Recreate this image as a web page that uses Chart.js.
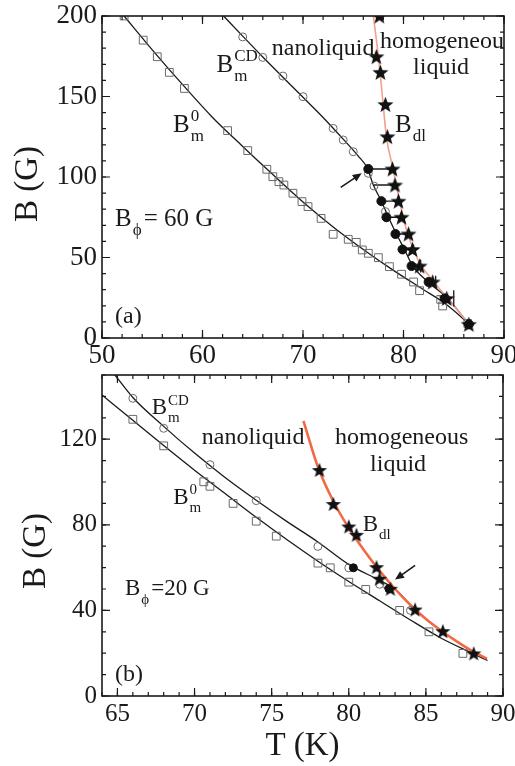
<!DOCTYPE html>
<html>
<head>
<meta charset="utf-8">
<script src="https://cdn.jsdelivr.net/npm/chart.js@4.4.1/dist/chart.umd.min.js"></script>
<style>
  html, body { margin: 0; padding: 0; background: #fff; }
  #wrap { position: relative; width: 515px; height: 766px; overflow: hidden; }
  canvas { position: absolute; left: 0; }
  #chartA { top: 0; }
  #chartB { top: 366px; }
</style>
</head>
<body>
<div id="wrap">
  <canvas id="chartA" width="515" height="382"></canvas>
  <canvas id="chartB" width="515" height="400"></canvas>
</div>
<script>
// ---------- panel (a): B_phi = 60 G ----------
var xTicksA = [50, 60, 70, 80, 90];
var yTicksA = [0, 50, 100, 150, 200];

// open squares, B_m^0
var sqA_T = [52.2, 54.1, 55.5, 56.7, 58.2, 62.5, 64.5, 66.4, 67.0, 67.6, 68.1, 69.0, 69.9, 70.5, 71.8, 73.0, 74.5, 75.3, 75.9, 76.5, 77.5, 78.6, 79.8, 81.0, 81.6, 83.7, 83.9, 86.4];
var sqA_B = [200, 185, 174.7, 165, 155, 128.8, 116.4, 104.8, 100.2, 97.1, 95, 89.9, 84.7, 81.6, 74.3, 64.4, 61.3, 59.4, 54.7, 52.6, 49.9, 44.3, 39.6, 34.8, 29.4, 24, 19.9, 9];
// open circles, B_m^CD
var circA_T = [64.0, 66.0, 68.0, 70.0, 73.0, 74.0, 75.0, 76.5, 77.06, 78.2];
var circA_B = [187, 174.3, 162.7, 149.9, 130.2, 123, 115.7, 102.3, 94.4, 78.5];
// filled circles
var dotA_T = [76.5, 77.8, 78.3, 79.2, 79.9, 80.8, 82.5, 84.1, 86.5];
var dotA_B = [105, 85, 75, 64.6, 55, 44.7, 34.8, 24.6, 8.5];
// stars, B_dl
var starA_T = [77.6, 77.3, 77.7, 78.2, 78.4, 78.9, 79.15, 79.5, 79.8, 80.5, 80.9, 81.6, 82.9, 84.3, 86.5];
var starA_B = [200, 174.7, 165, 145, 125, 105, 95, 85, 75, 64.6, 55, 44.7, 34.8, 24.6, 8.5];
// horizontal links circle -> star
var linkA_B = [105, 95, 85, 75, 64.6, 55, 44.7];
var linkA_from = [76.5, 77.06, 77.8, 78.3, 79.2, 79.9, 80.8];
var linkA_to = [78.9, 79.15, 79.5, 79.8, 80.5, 80.9, 81.6];
// error bars
var errA_T = [80.5, 81.0, 81.7, 83.2, 85.0];
var errA_B = [64.6, 55, 44.7, 34.8, 24.6];
var errA_D = [2.5, 3, 4, 3.8, 5];
// fit lines
var fitA0_T = [52.2, 55, 58, 61, 64, 67, 70, 73, 76, 79, 82, 84, 86.6];
var fitA0_B = [200, 179, 157.5, 137, 119, 101.5, 84.5, 69, 55, 42, 30, 22, 8.5];
var fitACD_T = [62.1, 64, 66, 68, 70, 72, 74, 75.5, 76.4, 77.0, 77.8, 78.5, 79.3, 80.1, 80.9, 82.5, 84.4, 86.5];
var fitACD_B = [200, 187.5, 174.5, 162, 149.5, 137, 123.5, 113, 105.5, 95, 85, 75, 64.6, 55, 45, 34.5, 24.6, 8.5];
var redA_T = [77.0, 77.5, 77.9, 78.3, 79.0, 79.65, 80.3, 81.0, 81.6, 82.6, 84.0, 86.6];
var redA_B = [200, 175, 150, 125, 104, 84, 67, 55, 46.5, 38, 27.5, 8];

// ---------- panel (b): B_phi = 20 G ----------
var xTicksB = [65, 70, 75, 80, 85, 90];
var yTicksB = [0, 40, 80, 120];

var sqB_T = [66, 68, 70.6, 71, 72.5, 74, 75.3, 78, 78.8, 80, 81.1, 83.3, 85.2, 87.4];
var sqB_B = [129.3, 116.9, 100.1, 98, 90, 81.7, 74.7, 62.1, 59.9, 53.2, 49.8, 40, 30, 19.9];
var circB_T = [66, 68, 71, 74, 78, 80, 82, 84];
var circB_B = [139.1, 125.1, 108.1, 91.3, 69.9, 59.9, 52.2, 40];
var dotB_T = [80.3, 82.6];
var dotB_B = [59.9, 50.1];
var starB_T = [78.1, 79, 80, 80.5, 81.8, 82, 82.7, 84.3, 86.1, 88.1];
var starB_B = [105.6, 89.7, 79.2, 75.3, 60.2, 54.8, 50.1, 40.4, 30.3, 19.9];
var fitB0_T = [64, 66, 68, 70, 72, 74, 76, 78, 80, 82, 84, 86, 88, 89];
var fitB0_B = [140.7, 128.8, 117, 105.5, 94.5, 83.5, 73, 63, 53.5, 44.5, 35.5, 27, 20, 16.6];
var fitBCD_T = [64.84, 66, 68, 70, 72, 74, 76, 78, 80, 82, 83, 84, 85, 86, 87, 88, 88.95];
var fitBCD_B = [150, 139.5, 126, 113.5, 102, 91.5, 81.5, 72, 61.5, 54, 50, 42.5, 36, 30.5, 25.5, 21, 17.5];
var redB_T = [77.06, 78, 79, 80, 81, 82, 83, 84, 85, 86, 87, 88, 88.95];
var redB_B = [128.6, 107, 91, 78.5, 68, 58.5, 50, 42.5, 36, 30.5, 25.5, 21, 17.5];

var SERIF = 'Liberation Serif';
var INK = '#1a1a1a';
var GRAY = '#6b6b6b';

function pts(xs, ys) {
  return xs.map(function (x, i) { return { x: x, y: ys[i] }; });
}

function links(bs, from, to) {
  var out = [];
  for (var i = 0; i < bs.length; i++) {
    out.push({ x: from[i], y: bs[i] }, { x: to[i], y: bs[i] }, { x: null, y: null });
  }
  return out;
}

// filled five-point star used as point style
function makeStar(r) {
  var c = document.createElement('canvas');
  var s = Math.ceil(r * 2 + 2);
  c.width = s; c.height = s;
  var g = c.getContext('2d');
  g.translate(s / 2, s / 2 + r * 0.08);
  g.beginPath();
  for (var i = 0; i < 10; i++) {
    var rad = i % 2 === 0 ? r : r * 0.42;
    var a = -Math.PI / 2 + i * Math.PI / 5;
    g.lineTo(rad * Math.cos(a), rad * Math.sin(a));
  }
  g.closePath();
  g.fillStyle = '#111';
  g.fill();
  return c;
}

function markers(data, style, radius, filled) {
  return {
    data: data, showLine: false, pointStyle: style, pointRadius: radius,
    borderColor: filled ? '#111' : GRAY, backgroundColor: filled ? '#111' : 'rgba(0,0,0,0)',
    pointBorderWidth: 1, clip: 0
  };
}

function curve(data, color, width) {
  return {
    data: data, showLine: true, pointRadius: 0, borderColor: color, borderWidth: width,
    cubicInterpolationMode: 'monotone', fill: false
  };
}

// frame, inward ticks, labels, arrows, error bars
function makeDecor(cfg) {
  return {
    id: 'decor',
    afterDatasetsDraw: function (chart) {
      var ctx = chart.ctx, xs = chart.scales.x, ys = chart.scales.y, a = chart.chartArea;
      ctx.save();
      ctx.strokeStyle = INK;
      ctx.fillStyle = INK;

      // error bars
      if (cfg.errT) {
        ctx.lineWidth = 1.3;
        for (var i = 0; i < cfg.errT.length; i++) {
          var ex = xs.getPixelForValue(cfg.errT[i]);
          ctx.beginPath();
          ctx.moveTo(ex, ys.getPixelForValue(cfg.errB[i] - cfg.errD[i]));
          ctx.lineTo(ex, ys.getPixelForValue(cfg.errB[i] + cfg.errD[i]));
          ctx.stroke();
        }
      }

      // arrows
      (cfg.arrows || []).forEach(function (ar) {
        var x1 = xs.getPixelForValue(ar.from[0]), y1 = ys.getPixelForValue(ar.from[1]);
        var x2 = xs.getPixelForValue(ar.to[0]), y2 = ys.getPixelForValue(ar.to[1]);
        var ang = Math.atan2(y2 - y1, x2 - x1);
        ctx.lineWidth = 1.6;
        ctx.beginPath();
        ctx.moveTo(x1, y1);
        ctx.lineTo(x2 - 6 * Math.cos(ang), y2 - 6 * Math.sin(ang));
        ctx.stroke();
        ctx.beginPath();
        ctx.moveTo(x2, y2);
        ctx.lineTo(x2 - 9 * Math.cos(ang) + 4 * Math.sin(ang), y2 - 9 * Math.sin(ang) - 4 * Math.cos(ang));
        ctx.lineTo(x2 - 9 * Math.cos(ang) - 4 * Math.sin(ang), y2 - 9 * Math.sin(ang) + 4 * Math.cos(ang));
        ctx.closePath();
        ctx.fill();
      });

      // text labels placed in data units (left edge, baseline), clipped to the frame
      ctx.save();
      ctx.beginPath();
      ctx.rect(a.left, a.top, a.right - a.left, a.bottom - a.top);
      ctx.clip();
      ctx.textBaseline = 'alphabetic';
      ctx.textAlign = 'left';
      cfg.labels.forEach(function (lb) {
        var x = xs.getPixelForValue(lb.t), y = ys.getPixelForValue(lb.b);
        ctx.font = lb.size + 'px "' + SERIF + '"';
        ctx.fillText(lb.main, x, y);
        var w = ctx.measureText(lb.main).width;
        var small = Math.round(lb.size * 0.66);
        ctx.font = small + 'px "' + SERIF + '"';
        var w2 = 0;
        if (lb.sup) {
          ctx.fillText(lb.sup, x + w + 1, y - lb.size * 0.42);
          w2 = Math.max(w2, ctx.measureText(lb.sup).width);
        }
        if (lb.sub) {
          ctx.fillText(lb.sub, x + w + 1, y + lb.size * 0.36);
          w2 = Math.max(w2, ctx.measureText(lb.sub).width);
        }
        if (lb.tail) {
          ctx.font = lb.size + 'px "' + SERIF + '"';
          ctx.fillText(lb.tail, x + w + w2 + 3, y);
        }
      });
      ctx.restore();

      // frame
      ctx.lineWidth = 1.6;
      ctx.strokeRect(a.left, a.top, a.right - a.left, a.bottom - a.top);

      // ticks pointing inwards, on all four sides
      ctx.lineWidth = 1.2;
      function tickSet(scale, step, len) {
        var n = Math.round((scale.max - scale.min) / step);
        for (var k = 0; k <= n; k++) {
          var v = Math.round((scale.min + k * step) * 1000) / 1000;
          var p = scale.getPixelForValue(v);
          ctx.beginPath();
          if (scale.axis === 'x') {
            ctx.moveTo(p, a.bottom); ctx.lineTo(p, a.bottom - len);
            ctx.moveTo(p, a.top); ctx.lineTo(p, a.top + len);
          } else {
            ctx.moveTo(a.left, p); ctx.lineTo(a.left + len, p);
            ctx.moveTo(a.right, p); ctx.lineTo(a.right - len, p);
          }
          ctx.stroke();
        }
      }
      tickSet(xs, cfg.minorX, 4);
      tickSet(ys, cfg.minorY, 4);
      xs.ticks.forEach(function (t) {
        var p = xs.getPixelForValue(t.value);
        ctx.beginPath();
        ctx.moveTo(p, a.bottom); ctx.lineTo(p, a.bottom - 8);
        ctx.moveTo(p, a.top); ctx.lineTo(p, a.top + 8);
        ctx.stroke();
      });
      ys.ticks.forEach(function (t) {
        var p = ys.getPixelForValue(t.value);
        ctx.beginPath();
        ctx.moveTo(a.left, p); ctx.lineTo(a.left + 8, p);
        ctx.moveTo(a.right, p); ctx.lineTo(a.right - 8, p);
        ctx.stroke();
      });

      // y axis title
      ctx.font = '33px "' + SERIF + '"';
      ctx.textAlign = 'center';
      ctx.textBaseline = 'middle';
      ctx.translate(cfg.yTitle[0], cfg.yTitle[1]);
      ctx.rotate(-Math.PI / 2);
      ctx.fillText('B (G)', 0, 0);
      ctx.restore();
    }
  };
}

function baseOptions(o) {
  return {
    responsive: false,
    animation: false,
    devicePixelRatio: 1,
    layout: { padding: { top: o.top, right: o.right, left: 0, bottom: 0 } },
    plugins: { legend: { display: false }, tooltip: { enabled: false } },
    scales: {
      x: {
        type: 'linear', min: o.xMin, max: o.xMax,
        afterBuildTicks: function (s) { s.ticks = o.xTicks.map(function (v) { return { value: v }; }); },
        afterFit: function (s) { s.height = o.xHeight; s.paddingLeft = 0; s.paddingRight = 0; },
        grid: { display: false, drawTicks: false },
        border: { display: false },
        title: o.xTitle ? {
          display: true, text: o.xTitle, color: INK,
          font: { family: SERIF, size: 33, lineHeight: 1.2 }, padding: 0
        } : { display: false },
        ticks: { padding: o.xPad, color: INK, font: { family: SERIF, size: o.tickSize }, maxRotation: 0, autoSkip: false }
      },
      y: {
        type: 'linear', min: o.yMin, max: o.yMax,
        afterBuildTicks: function (s) { s.ticks = o.yTicks.map(function (v) { return { value: v }; }); },
        afterFit: function (s) { s.width = 102; s.paddingTop = 0; s.paddingBottom = 0; },
        grid: { display: false, drawTicks: false },
        border: { display: false },
        ticks: { padding: 5, color: INK, font: { family: SERIF, size: o.tickSize }, autoSkip: false }
      }
    }
  };
}

var starA = makeStar(8.5);
var starB = makeStar(8);

new Chart(document.getElementById('chartA'), {
  type: 'scatter',
  data: {
    datasets: [
      markers(pts(starA_T, starA_B), starA, 8, true),
      markers(pts(dotA_T, dotA_B), 'circle', 4.5, true),
      markers(pts(circA_T, circA_B), 'circle', 4, false),
      markers(pts(sqA_T, sqA_B), 'rect', 5.5, false),
      Object.assign(curve(links(linkA_B, linkA_from, linkA_to), INK, 1.4), { cubicInterpolationMode: 'default', tension: 0 }),
      curve(pts(redA_T, redA_B), '#f2a08e', 1.6),
      curve(pts(fitACD_T, fitACD_B), INK, 1.3),
      curve(pts(fitA0_T, fitA0_B), INK, 1.3)
    ]
  },
  options: baseOptions({
    top: 16, right: 11, xMin: 50, xMax: 90, yMin: 0, yMax: 200,
    xTicks: xTicksA, yTicks: yTicksA, xHeight: 44, xPad: 2, tickSize: 27
  }),
  plugins: [makeDecor({
    minorX: 2, minorY: 10, yTitle: [28, 184],
    errT: errA_T, errB: errA_B, errD: errA_D,
    arrows: [{ from: [73.75, 93.6], to: [75.84, 102.3] }],
    labels: [
      { t: 61.4, b: 165.4, main: 'B', sup: 'CD', sub: 'm', size: 25 },
      { t: 57.06, b: 128.1, main: 'B', sup: '0', sub: 'm', size: 25 },
      { t: 79.15, b: 128.1, main: 'B', sub: 'dl', size: 25 },
      { t: 66.9, b: 175.8, main: 'nanoliquid', size: 24 },
      { t: 77.66, b: 180, main: 'homogeneous', size: 24 },
      { t: 80.95, b: 164, main: 'liquid', size: 24 },
      { t: 51.3, b: 69.6, main: 'B', sub: '\u03D5', tail: '= 60 G', size: 25 },
      { t: 51.3, b: 9.3, main: '(a)', size: 24 }
    ]
  })]
});

new Chart(document.getElementById('chartB'), {
  type: 'scatter',
  data: {
    datasets: [
      markers(pts(starB_T, starB_B), starB, 8, true),
      markers(pts(dotB_T, dotB_B), 'circle', 4, true),
      markers(pts(circB_T, circB_B), 'circle', 4, false),
      markers(pts(sqB_T, sqB_B), 'rect', 5.5, false),
      curve(pts(redB_T, redB_B), '#f26a45', 2.6),
      curve(pts(fitBCD_T, fitBCD_B), INK, 1.3),
      curve(pts(fitB0_T, fitB0_B), INK, 1.3)
    ]
  },
  options: baseOptions({
    top: 8, right: 12, xMin: 64, xMax: 90, yMin: 0, yMax: 150,
    xTicks: xTicksB, yTicks: yTicksB, xHeight: 70, xPad: 3, tickSize: 25, xTitle: 'T (K)'
  }),
  plugins: [makeDecor({
    minorX: 1, minorY: 10, yTitle: [36, 185],
    arrows: [{ from: [84.3, 61], to: [83.0, 54.4] }],
    labels: [
      { t: 67.22, b: 131.7, main: 'B', sup: 'CD', sub: 'm', size: 23 },
      { t: 68.62, b: 89.8, main: 'B', sup: '0', sub: 'm', size: 23 },
      { t: 80.9, b: 77.3, main: 'B', sub: 'dl', size: 23 },
      { t: 70.47, b: 117.7, main: 'nanoliquid', size: 24 },
      { t: 79.11, b: 117.7, main: 'homogeneous', size: 24 },
      { t: 81.38, b: 105.3, main: 'liquid', size: 24 },
      { t: 65.49, b: 47, main: 'B', sub: '\u03D5', tail: '=20 G', size: 23 },
      { t: 64.84, b: 7, main: '(b)', size: 24 }
    ]
  })]
});
</script>
</body>
</html>
